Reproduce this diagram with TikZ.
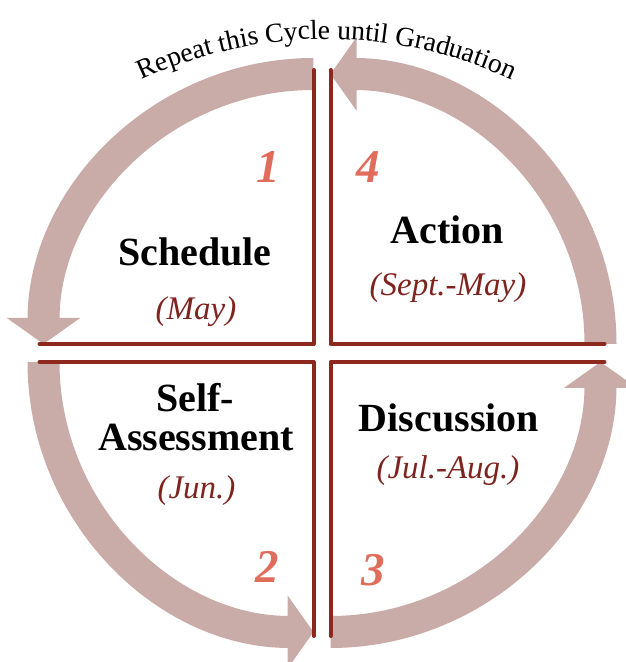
\documentclass[tikz,border=0pt]{standalone}
\usepackage{fontspec}
\setmainfont{Liberation Serif}
\usetikzlibrary{arrows.meta,decorations.text}

\definecolor{arrowpink}{RGB}{201,171,168}
\definecolor{edgered}{RGB}{140,40,30}
\definecolor{numsalmon}{RGB}{224,108,92}
\definecolor{monthred}{RGB}{125,36,30}
\newcommand{\cycletitlefont}{\fontsize{27.5}{27.5}\selectfont}

\tikzset{
  cyclearrow/.style={draw=arrowpink, line width=32pt, -{Triangle[width=72pt,length=26pt]}},
  quadedge/.style={draw=edgered, line width=4pt, line join=round, line cap=round},
  stagename/.style={font=\fontsize{40}{40}\selectfont\bfseries, anchor=base},
  stagemonth/.style={font=\fontsize{33}{33}\selectfont\itshape, text=monthred, anchor=base},
  stagenum/.style={font=\fontsize{47}{47}\selectfont\bfseries\itshape, text=numsalmon}
}

\begin{document}
\begin{tikzpicture}[x=1pt,y=1pt]
\tikzstyle{every node}+=[inner sep=0pt]
\useasboundingbox (0,0) rectangle (626,662);
\coordinate (tl) at (313.5,318);
\coordinate (tr) at (330.5,318);
\coordinate (bl) at (313.5,300);
\coordinate (br) at (330.5,300);
\coordinate (titlec) at (327,183);
% arrows round the cycle
\draw [cyclearrow] ([shift={(90:270)}]tl) arc (90:180:270);
\draw [cyclearrow] ([shift={(180:270)}]bl) arc (180:270:270);
\draw [cyclearrow] ([shift={(270:270)}]br) arc (270:360:270);
\draw [cyclearrow] ([shift={(0:270)}]tr) arc (0:90:270);
% quadrant edges
\draw [quadedge] ([shift={(90:274)}]tl) -- (tl) -- ([shift={(180:274)}]tl);
\draw [quadedge] ([shift={(180:274)}]bl) -- (bl) -- ([shift={(270:274)}]bl);
\draw [quadedge] ([shift={(270:274)}]br) -- (br) -- ([shift={(0:274)}]br);
\draw [quadedge] ([shift={(0:274)}]tr) -- (tr) -- ([shift={(90:274)}]tr);
% title on an arc, with its shadow
\begin{scope}[shift={(1.5,-2.5)}]
\path [decorate, decoration={text along path, text align=center, text color=black!20,
  text={|\cycletitlefont|Repeat this Cycle until Graduation}}]
  ([shift={(115:440)}]titlec) arc (115:65:440);
\end{scope}
\path [decorate, decoration={text along path, text align=center, text color=black,
  text={|\cycletitlefont|Repeat this Cycle until Graduation}}]
  ([shift={(115:440)}]titlec) arc (115:65:440);
\node (num1) at (268,495) [stagenum] {1};
\node (num4) at (368,495) [stagenum] {4};
\node (num2) at (267.5,95) [stagenum] {2};
\node (num3) at (373,92) [stagenum] {3};
\node (schedule) at (195,396) [stagename] {Schedule};
\node (may) at (196,342) [stagemonth] {(May)};
\node (action) at (447.5,418) [stagename] {Action};
\node (septmay) at (448,366) [stagemonth] {(Sept.-May)};
\node (selfa) at (195,250) [stagename] {Self-};
\node (selfb) at (196,211) [stagename] {Assessment};
\node (jun) at (196.5,163) [stagemonth] {(Jun.)};
\node (discussion) at (449,230) [stagename] {Discussion};
\node (julaug) at (448,183) [stagemonth] {(Jul.-Aug.)};
\end{tikzpicture}
\end{document}
